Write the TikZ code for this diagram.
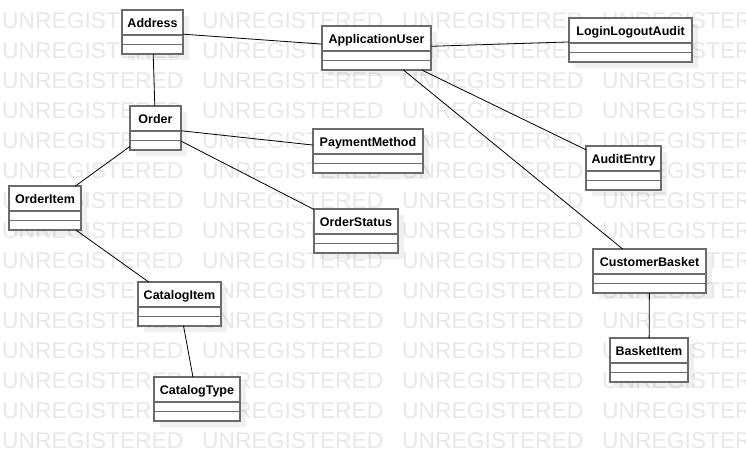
\documentclass[tikz,border=0pt]{standalone}
\usepackage{fontspec}
\setmainfont{Liberation Sans}
\usepackage{tikz}
\usetikzlibrary{shadows}

\begin{document}
\begin{tikzpicture}[x=1pt,y=-1pt,
  watermark/.style={anchor=base west, inner sep=0pt, text=black!9,
    font=\fontsize{22.8}{24}\selectfont},
  umlclass/.style={draw=black!58, line width=1.1pt, fill=white, anchor=north west,
    inner xsep=2pt, inner ysep=0pt, outer sep=0pt, text height=17.3pt, text depth=26.7pt,
    font=\fontsize{12.5}{14}\selectfont\bfseries,
    drop shadow={shadow xshift=6pt, shadow yshift=-6pt, fill=black, opacity=0.06}},
  compline/.style={draw=black!58, line width=1.1pt},
  assoc/.style={draw=black, line width=0.8pt}]
\useasboundingbox (0,0) rectangle (746,462);
\fill[white] (0,0) rectangle (746,462);
% watermark
\foreach \r in {0,...,14}
  \foreach \k in {0,...,3}
    \node[watermark] (wm-\r-\k) at (2+200*\k, 28.5+30*\r) {UNREGISTERED};
% classes
\node[umlclass, minimum width=61pt] (address) at (122,10) {Address};
\node[umlclass, minimum width=109pt] (appuser) at (322,26) {ApplicationUser};
\node[umlclass, minimum width=123pt] (login) at (569,18) {LoginLogoutAudit};
\node[umlclass, minimum width=51pt] (order) at (130,106) {Order};
\node[umlclass, minimum width=110pt] (payment) at (313,129) {PaymentMethod};
\node[umlclass, minimum width=75pt] (audit) at (586,146) {AuditEntry};
\node[umlclass, minimum width=72pt] (orderitem) at (9,186) {OrderItem};
\node[umlclass, minimum width=84pt] (status) at (314,209) {OrderStatus};
\node[umlclass, minimum width=113pt] (basket) at (593,249) {CustomerBasket};
\node[umlclass, minimum width=83pt] (catitem) at (138,282) {CatalogItem};
\node[umlclass, minimum width=78pt] (basketitem) at (610,338) {BasketItem};
\node[umlclass, minimum width=86pt] (cattype) at (154,377) {CatalogType};
% compartments
\foreach \c in {address,appuser,login,order,payment,audit,orderitem,status,basket,catitem,basketitem,cattype} {
  \draw[compline] ([yshift=-25pt]\c.north west) -- ([yshift=-25pt]\c.north east);
  \draw[compline] ([yshift=-34.5pt]\c.north west) -- ([yshift=-34.5pt]\c.north east);
}
% associations
\draw[assoc] (address) -- (appuser);
\draw[assoc] (address) -- (order);
\draw[assoc] (appuser) -- (login);
\draw[assoc] (appuser) -- (audit);
\draw[assoc] (appuser) -- (basket);
\draw[assoc] (order) -- (payment);
\draw[assoc] (order) -- (status);
\draw[assoc] (order) -- (orderitem);
\draw[assoc] (orderitem) -- (catitem);
\draw[assoc] (catitem) -- (cattype);
\draw[assoc] (basket) -- (basketitem);
\end{tikzpicture}
\end{document}
